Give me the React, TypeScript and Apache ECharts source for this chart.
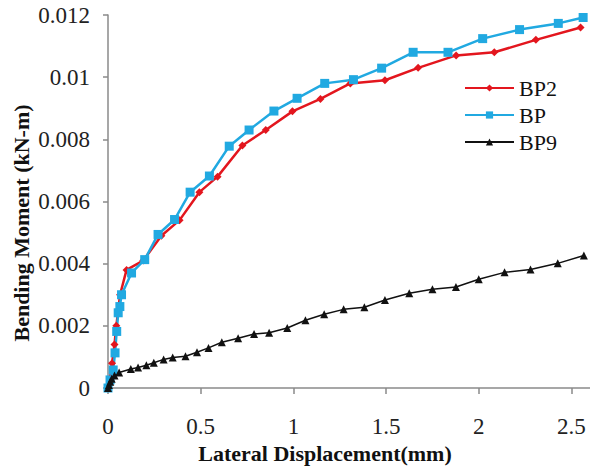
import React, { useEffect, useRef } from "react";
import * as echarts from "echarts";

const seriesNames = ["BP2", "BP", "BP9"];

const bp2X = [0, 0.01, 0.022, 0.035, 0.045, 0.055, 0.065, 0.1, 0.19, 0.288, 0.386, 0.493, 0.591, 0.725, 0.851, 0.995, 1.146, 1.307, 1.494, 1.673, 1.878, 2.084, 2.308, 2.549];
const bp2Y = [0, 0.0003, 0.0008, 0.0014, 0.002, 0.0025, 0.003, 0.0038, 0.0041, 0.0049, 0.0054, 0.0063, 0.0068, 0.0078, 0.0083, 0.0089, 0.0093, 0.0098, 0.0099, 0.0103, 0.0107, 0.0108, 0.0112, 0.0116];

const bpX = [0, 0.011, 0.028, 0.038, 0.047, 0.055, 0.064, 0.073, 0.127, 0.198, 0.27, 0.359, 0.443, 0.547, 0.654, 0.761, 0.895, 1.02, 1.169, 1.324, 1.476, 1.646, 1.834, 2.021, 2.22, 2.429, 2.563];
const bpY = [0, 0.00026, 0.00058, 0.00113, 0.00182, 0.00242, 0.00262, 0.003, 0.0037, 0.00413, 0.00494, 0.00542, 0.0063, 0.00682, 0.00778, 0.0083, 0.00891, 0.00932, 0.0098, 0.00992, 0.01029, 0.0108, 0.0108, 0.01124, 0.01153, 0.01173, 0.01192];

const bp9X = [0, 0.005, 0.012, 0.02, 0.035, 0.06, 0.123, 0.162, 0.207, 0.247, 0.3, 0.349, 0.418, 0.48, 0.542, 0.614, 0.702, 0.788, 0.869, 0.967, 1.065, 1.166, 1.271, 1.383, 1.494, 1.625, 1.75, 1.877, 2.0, 2.139, 2.279, 2.426, 2.567];
const bp9Y = [0, 0.0001, 0.0002, 0.0003, 0.0004, 0.0005, 0.00061, 0.00066, 0.00073, 0.00081, 0.00092, 0.00098, 0.00102, 0.00115, 0.00129, 0.00147, 0.0016, 0.00174, 0.00178, 0.00193, 0.00218, 0.00237, 0.00253, 0.0026, 0.00283, 0.00305, 0.00318, 0.00325, 0.0035, 0.00372, 0.00381, 0.00401, 0.00426];

const xAxisTitle = "Lateral Displacement(mm)";
const yAxisTitle = "Bending Moment (kN-m)";

const zip = (xs: number[], ys: number[]) => xs.map((x, i) => [x, ys[i]]);

const FONT = "'Liberation Serif', serif";

export default function App() {
  const ref = useRef<HTMLDivElement>(null);
  useEffect(() => {
    if (!ref.current) return;
    const chart = echarts.init(ref.current, null, { renderer: "svg" });
    const axisLine = { show: true, lineStyle: { color: "#8a8a8a", width: 1.5 } };
    const labelStyle = { fontFamily: FONT, fontSize: 23, fontWeight: "normal", color: "#222" };
    chart.setOption({
      animation: false,
      backgroundColor: "#ffffff",
      textStyle: { fontFamily: FONT },
      grid: { left: 108, right: 0, top: 15, bottom: 81 },
      legend: {
        orient: "vertical",
        left: 459,
        top: 72,
        itemGap: 5,
        itemWidth: 49,
        itemHeight: 9,
        data: seriesNames,
        textStyle: { fontFamily: FONT, fontSize: 22, color: "#111" },
      },
      xAxis: {
        type: "value",
        min: 0,
        max: 2.6,
        interval: 0.5,
        axisLine,
        axisTick: { show: true, length: 6, lineStyle: { color: "#8a8a8a", width: 1.5 } },
        splitLine: { show: false },
        axisLabel: {
          margin: 27,
          ...labelStyle,
          showMaxLabel: false,
          formatter: (v: number) => (Math.abs(v / 0.5 - Math.round(v / 0.5)) < 1e-6 ? String(+v.toFixed(1)) : ""),
        },
      },
      yAxis: {
        type: "value",
        min: 0,
        max: 0.012,
        interval: 0.002,
        axisLine,
        axisTick: { show: true, length: 5, lineStyle: { color: "#8a8a8a", width: 1.5 } },
        splitLine: { show: false },
        axisLabel: {
          margin: 18,
          ...labelStyle,
          formatter: (v: number) => (v === 0 ? "0" : String(+v.toFixed(3))),
        },
      },
      graphic: [
        {
          type: "text",
          x: 325,
          y: 453,
          style: {
            text: xAxisTitle,
            fontFamily: FONT,
            fontWeight: "bold",
            fontSize: 22,
            fill: "#111",
            align: "center",
            verticalAlign: "middle",
          },
        },
        {
          type: "text",
          x: 21,
          y: 223,
          rotation: Math.PI / 2,
          style: {
            text: yAxisTitle,
            fontFamily: FONT,
            fontWeight: "bold",
            fontSize: 22,
            fill: "#111",
            align: "center",
            verticalAlign: "middle",
          },
        },
      ],
      series: [
        {
          name: "BP2",
          type: "line",
          data: zip(bp2X, bp2Y),
          symbol: "diamond",
          symbolSize: 8,
          lineStyle: { color: "#E3161E", width: 2.5 },
          itemStyle: { color: "#E3161E" },
        },
        {
          name: "BP",
          type: "line",
          data: zip(bpX, bpY),
          symbol: "rect",
          symbolSize: 9,
          lineStyle: { color: "#21A9E1", width: 2.5 },
          itemStyle: { color: "#21A9E1" },
        },
        {
          name: "BP9",
          type: "line",
          data: zip(bp9X, bp9Y),
          symbol: "triangle",
          symbolSize: 8,
          lineStyle: { color: "#111111", width: 1.5 },
          itemStyle: { color: "#111111" },
        },
      ],
    });
    return () => chart.dispose();
  }, []);
  return (
    <div
      ref={ref}
      style={{ position: "absolute", left: 0, top: 0, width: 590, height: 469, background: "#fff" }}
    />
  );
}
